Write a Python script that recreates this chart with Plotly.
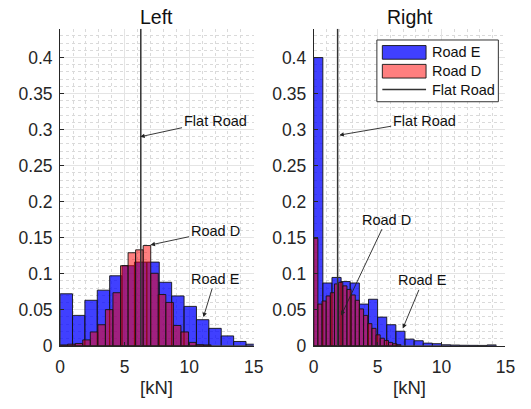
import plotly.graph_objects as go

W, H = 531, 409

# ---------------- data (probability per bin) ----------------
left_blue_width = 0.96
left_blue = [0.072, 0.042, 0.063, 0.077, 0.097, 0.111, 0.116, 0.116, 0.088,
             0.069, 0.0545, 0.036, 0.024, 0.0135, 0.0058, 0.002]
left_red_width = 0.585
left_red = [0.001, 0.002, 0.003, 0.008, 0.019, 0.029, 0.050, 0.0735, 0.111,
            0.129, 0.133, 0.139, 0.1005, 0.071, 0.060, 0.028, 0.019, 0.0045,
            0.0014, 0.001]
right_blue_width = 0.714
right_blue = [0.400, 0.087, 0.0947, 0.089, 0.087, 0.0577, 0.0644, 0.0396,
              0.029, 0.020, 0.009, 0.0068, 0.0035, 0.0027, 0.0012, 0.0008,
              0.0005, 0.0004, 0.0003, 0.0010]
right_red_width = 0.325
right_red = [0.149, 0.0577, 0.062, 0.069, 0.0735, 0.0857, 0.088, 0.083, 0.078,
             0.0704, 0.063, 0.051, 0.042, 0.0306, 0.024, 0.015, 0.0103, 0.0072,
             0.0045, 0.0027, 0.0013]
flat_left = 6.25
flat_right = 1.87

names = ["Road E", "Road D", "Flat Road"]
titles = ["Left", "Right"]
x_label = "[kN]"

BLUE = "rgba(0,0,255,0.75)"
RED = "rgba(255,0,0,0.5)"
EDGE = "rgba(20,20,20,0.9)"
LINEC = "#333333"
FONT = "Liberation Sans, Arial, Helvetica, sans-serif"


def centers(n, w):
    return [w * (i + 0.5) for i in range(n)]


fig = go.Figure()
for xa, ya, bv, bw, rv, rw, fl in [
    ("x", "y", left_blue, left_blue_width, left_red, left_red_width, flat_left),
    ("x2", "y2", right_blue, right_blue_width, right_red, right_red_width, flat_right),
]:
    fig.add_trace(go.Bar(x=centers(len(bv), bw), y=bv, width=bw, name=names[0],
                         marker=dict(color=BLUE, line=dict(color=EDGE, width=1)),
                         xaxis=xa, yaxis=ya, showlegend=False))
    fig.add_trace(go.Bar(x=centers(len(rv), rw), y=rv, width=rw, name=names[1],
                         marker=dict(color=RED, line=dict(color=EDGE, width=1)),
                         xaxis=xa, yaxis=ya, showlegend=False))
    fig.add_trace(go.Scatter(x=[fl, fl], y=[0, 0.44], mode="lines", name=names[2],
                             line=dict(color=LINEC, width=1.5),
                             xaxis=xa, yaxis=ya, showlegend=False))


def px(x):
    return x / W


def py(y):
    return 1 - y / H


TICKF = dict(size=17.5, color="#262626", family=FONT)
xcommon = dict(range=[0, 15], tick0=0, dtick=5, showgrid=True, gridcolor="#e4e4e4",
               gridwidth=1,
               minor=dict(dtick=1, showgrid=True, gridcolor="#dadada", griddash="dot",
                          gridwidth=1),
               showline=True, linecolor="#262626", linewidth=1, ticks="inside",
               ticklen=4, tickcolor="#262626", zeroline=False, tickfont=TICKF,
               ticklabelstandoff=5)
ycommon = dict(range=[0, 0.44], tick0=0, dtick=0.05, showgrid=True, gridcolor="#e4e4e4",
               gridwidth=1,
               minor=dict(dtick=0.01, showgrid=True, gridcolor="#dadada", griddash="dot",
                          gridwidth=1),
               showline=True, linecolor="#262626", linewidth=1, ticks="inside",
               ticklen=4, tickcolor="#262626", zeroline=False, tickfont=TICKF,
               ticklabelstandoff=3)

ydom = [1 - 354.3 / H, 1 - 29.5 / H]
fig.update_layout(
    width=W, height=H, margin=dict(l=0, r=0, t=0, b=0),
    paper_bgcolor="white", plot_bgcolor="white", barmode="overlay",
    showlegend=False, hovermode=False,
    font=dict(family=FONT, size=16, color="#262626"),
    xaxis=dict(domain=[56.7 / W, 256 / W], anchor="y", **xcommon),
    yaxis=dict(domain=ydom, anchor="x", **ycommon),
    xaxis2=dict(domain=[317.7 / W, 515 / W], anchor="y2", **xcommon),
    yaxis2=dict(domain=ydom, anchor="x2", **ycommon),
)

ann = []
for cx, t in [((56.7 + 256) / 2, titles[0]), ((317.7 + 515) / 2, titles[1])]:
    ann.append(dict(x=px(cx), y=py(17), xref="paper", yref="paper", text=t,
                    showarrow=False, xanchor="center", yanchor="middle",
                    font=dict(size=19.5, color="#111111")))
    ann.append(dict(x=px(cx), y=py(397), xref="paper", yref="paper", text=x_label,
                    showarrow=False, xanchor="center", yanchor="middle",
                    font=dict(size=18.5, color="#262626")))

arrows = [
    ("x", "y", "Flat Road", 6.2, 0.290, 12.0, 0.3126),
    ("x", "y", "Road D", 7.0, 0.1398, 12.0, 0.159),
    ("x", "y", "Road E", 11.1, 0.0396, 12.0, 0.0924),
    ("x2", "y2", "Flat Road", 2.0, 0.2923, 8.64, 0.3126),
    ("x2", "y2", "Road D", 2.15, 0.042, 5.69, 0.175),
    ("x2", "y2", "Road E", 6.97, 0.0238, 8.54, 0.0907),
]
for xr, yr, t, x, y, axv, ayv in arrows:
    ann.append(dict(x=x, y=y, xref=xr, yref=yr, ax=axv, ay=ayv, axref=xr, ayref=yr,
                    text=t, showarrow=True, arrowhead=2, arrowsize=1, arrowwidth=0.9,
                    arrowcolor="#222222", font=dict(size=14.5, color="#111111"),
                    standoff=0, startstandoff=0))

shapes = [
    dict(type="rect", xref="paper", yref="paper", x0=px(382.7), x1=px(507.7),
         y0=py(104.3), y1=py(41), fillcolor="white", line=dict(color="#333333", width=1),
         layer="above"),
    dict(type="rect", xref="paper", yref="paper", x0=px(388.3), x1=px(433.3),
         y0=py(60.7), y1=py(46.7), fillcolor=BLUE, line=dict(color=EDGE, width=1),
         layer="above"),
    dict(type="rect", xref="paper", yref="paper", x0=px(388.3), x1=px(433.3),
         y0=py(80), y1=py(66), fillcolor=RED, line=dict(color=EDGE, width=1),
         layer="above"),
    dict(type="line", xref="paper", yref="paper", x0=px(388.3), x1=px(433.3),
         y0=py(91.7), y1=py(91.7), line=dict(color=LINEC, width=1.5), layer="above"),
]
for t, yy in zip(names, [53.3, 72.7, 92.3]):
    ann.append(dict(x=px(437.7), y=py(yy), xref="paper", yref="paper", text=t,
                    showarrow=False, xanchor="left", yanchor="middle",
                    font=dict(size=14.5, color="#111111")))

fig.update_layout(annotations=ann, shapes=shapes)
fig.write_html("out.html", config={"displayModeBar": False, "staticPlot": True},
               post_script="document.body.style.margin='0';")
